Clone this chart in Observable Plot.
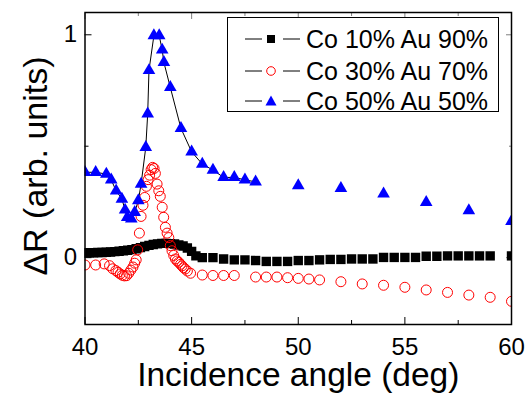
<!DOCTYPE html>
<html><head><meta charset="utf-8">
<script src="https://cdn.jsdelivr.net/npm/d3@7"></script>
<script src="https://cdn.jsdelivr.net/npm/@observablehq/plot@0.6"></script>
<style>
body{margin:0;background:#fff;font-family:"Liberation Sans",Arial,sans-serif;}
#wrap{position:relative;width:530px;height:396px;overflow:hidden;}
#legend{position:absolute;left:227px;top:17px;width:270px;height:93px;border:1.5px solid #000;background:#fff;}
.row{position:absolute;left:0;height:30px;display:flex;align-items:center;font-size:25px;color:#000;white-space:nowrap;}
.row svg{margin-left:16px;margin-right:6px;}
</style></head><body><div id="wrap"></div>
<script>
// axis ticks
const xTicks = [40, 45, 50, 55, 60];
const xMinor = [42.5, 47.5, 52.5, 57.5];
const yTicks = [0, 1];
const yMinor = [0.5];
const xTitle = "Incidence angle (deg)";
const yTitle = "ΔR (arb. units)";
const seriesNames = ["Co 10% Au 90%", "Co 30% Au 70%", "Co 50% Au 50%"];

// Co 10% Au 90% (black squares)
const co10Angle = [40.0,40.2,40.4,40.6,40.8,41.0,41.2,41.4,41.6,41.8,42.0,42.2,42.4,42.6,42.8,43.0,43.2,43.4,43.6,43.8,44.0,44.2,44.4,44.6,44.8,45.0,45.2,45.5,46.0,46.5,47.0,47.5,48.0,48.5,49.0,49.5,50.0,50.5,51.0,51.5,52.0,52.5,53.0,53.5,54.0,54.5,55.0,55.5,56.0,56.5,57.0,57.5,58.0,58.5,59.0,60.0];
const co10R = [0.022,0.022,0.022,0.023,0.023,0.024,0.025,0.027,0.029,0.031,0.033,0.036,0.040,0.045,0.050,0.055,0.059,0.062,0.064,0.064,0.063,0.061,0.057,0.052,0.043,0.028,0.008,0.000,0.000,-0.006,-0.010,-0.010,-0.013,-0.017,-0.017,-0.017,-0.013,-0.013,-0.010,-0.008,-0.008,-0.006,-0.006,-0.006,0.001,0.001,0.001,0.001,0.006,0.006,0.008,0.008,0.008,0.008,0.008,0.008];

// Co 30% Au 70% (red open circles)
const co30Angle = [40.0,40.5,40.9,41.15,41.3,41.45,41.55,41.65,41.75,41.85,41.95,42.05,42.15,42.25,42.33,42.4,42.47,42.55,42.63,42.72,42.8,42.88,42.96,43.03,43.1,43.17,43.24,43.3,43.38,43.46,43.53,43.62,43.69,43.77,43.85,43.93,44.0,44.08,44.16,44.24,44.32,44.4,44.48,44.55,44.62,44.7,44.8,44.95,45.5,46.0,46.5,47.0,48.0,48.5,49.0,49.5,50.0,50.5,51.0,52,53,54,55,56,57,58,59,60];
const co30R = [-0.033,-0.033,-0.028,-0.036,-0.050,-0.058,-0.066,-0.073,-0.079,-0.082,-0.081,-0.070,-0.056,-0.042,-0.025,-0.010,0.035,0.110,0.185,0.235,0.270,0.320,0.350,0.370,0.395,0.405,0.400,0.378,0.330,0.300,0.275,0.226,0.181,0.136,0.110,0.090,0.054,0.031,0.010,-0.006,-0.015,-0.021,-0.030,-0.037,-0.045,-0.051,-0.060,-0.070,-0.078,-0.080,-0.080,-0.080,-0.087,-0.087,-0.087,-0.090,-0.093,-0.096,-0.100,-0.108,-0.118,-0.124,-0.133,-0.145,-0.156,-0.168,-0.178,-0.196];

// Co 50% Au 50% (blue triangles)
const co50Angle = [40.0,40.5,41.0,41.23,41.46,41.73,41.88,41.98,42.17,42.33,42.5,42.63,42.85,42.94,43.0,43.23,43.48,43.62,43.7,44.0,44.5,45.0,45.5,46.0,46.5,47.0,47.5,48.0,50,52,54,56,58,60];
const co50R = [0.383,0.383,0.375,0.349,0.300,0.263,0.214,0.181,0.174,0.203,0.256,0.330,0.495,0.645,0.840,0.996,0.996,0.932,0.876,0.764,0.580,0.475,0.420,0.393,0.360,0.360,0.349,0.340,0.323,0.311,0.286,0.248,0.211,0.163];

const co10 = co10Angle.map((a, i) => ({a, r: co10R[i]}));
const co30 = co30Angle.map((a, i) => ({a, r: co30R[i]}));
const co50 = co50Angle.map((a, i) => ({a, r: co50R[i]}));
const co50Line = co50.filter(d => d.a <= 48);

const font = '"Liberation Sans", Arial, sans-serif';
const blank = () => "";

const chart = Plot.plot({
  width: 530, height: 396,
  marginLeft: 84.5, marginRight: 19, marginTop: 12, marginBottom: 72,
  style: {fontFamily: font, background: "#fff", overflow: "visible"},
  x: {domain: [40, 60]},
  y: {domain: [-0.3, 1.1]},
  marks: [
    Plot.line(co50Line, {x: "a", y: "r", stroke: "#000", strokeWidth: 1, clip: true}),
    Plot.dot(co10, {x: "a", y: "r", symbol: "square", r: 5.3, fill: "#000", stroke: "none", clip: true}),
    Plot.dot(co30, {x: "a", y: "r", symbol: "circle", r: 5, fill: "none", stroke: "#ff0000", strokeWidth: 1, clip: true}),
    Plot.dot(co50, {x: "a", y: "r", symbol: "triangle", r: 4.7, fill: "#0000ff", stroke: "none", clip: true}),
    Plot.axisX({ticks: xTicks, tickSize: -7, tickPadding: 20, fontSize: 24, tickFormat: d => String(d), label: null}),
    Plot.axisX({ticks: xMinor, tickSize: -4, tickFormat: blank, label: null}),
    Plot.axisX({anchor: "top", ticks: xTicks, tickSize: -6, tickFormat: blank, label: null, strokeOpacity: 0.5}),
    Plot.axisX({anchor: "top", ticks: xMinor, tickSize: -3, tickFormat: blank, label: null, strokeOpacity: 0.5}),
    Plot.axisY({ticks: yTicks, tickSize: -7, tickPadding: 15, fontSize: 24, tickFormat: d => String(d), label: null}),
    Plot.axisY({ticks: yMinor, tickSize: -4, tickFormat: blank, label: null}),
    Plot.axisY({anchor: "right", ticks: yTicks, tickSize: -6, tickFormat: blank, label: null, strokeOpacity: 0.5}),
    Plot.axisY({anchor: "right", ticks: yMinor, tickSize: -3, tickFormat: blank, label: null, strokeOpacity: 0.5}),
    Plot.frame({stroke: "#000", strokeWidth: 1.5}),
    Plot.text([xTitle], {text: d => d, frameAnchor: "bottom", dy: 61, fontSize: 33.5, fill: "#000"})
  ]
});

const wrap = document.getElementById("wrap");
wrap.appendChild(chart);

// y-axis title (rotated)
d3.select(chart).append("text")
  .attr("transform", "translate(35,166) rotate(-90)")
  .attr("text-anchor", "middle")
  .attr("dy", "0.35em")
  .attr("font-size", 34)
  .attr("font-family", font)
  .attr("fill", "#000")
  .text(yTitle);

// legend
const legend = document.createElement("div");
legend.id = "legend";
wrap.appendChild(legend);
const markers = [
  '<rect x="23" y="11" width="8" height="8" fill="#000"/>',
  '<circle cx="27" cy="15" r="4.3" fill="none" stroke="#ff0000" stroke-width="1"/>',
  '<path d="M27,9.5 L32.5,19.5 L21.5,19.5 Z" fill="#0000ff"/>'
];
const rowTops = [6, 38, 68];
seriesNames.forEach((name, i) => {
  const row = document.createElement("div");
  row.className = "row";
  row.style.top = rowTops[i] + "px";
  row.innerHTML = `<svg width="56" height="30"><line x1="1" y1="15" x2="18" y2="15" stroke="#000" stroke-width="1"/><line x1="39" y1="15" x2="56" y2="15" stroke="#000" stroke-width="1"/>${markers[i]}</svg><span></span>`;
  row.querySelector("span").textContent = name;
  legend.appendChild(row);
});
</script>
</body></html>
